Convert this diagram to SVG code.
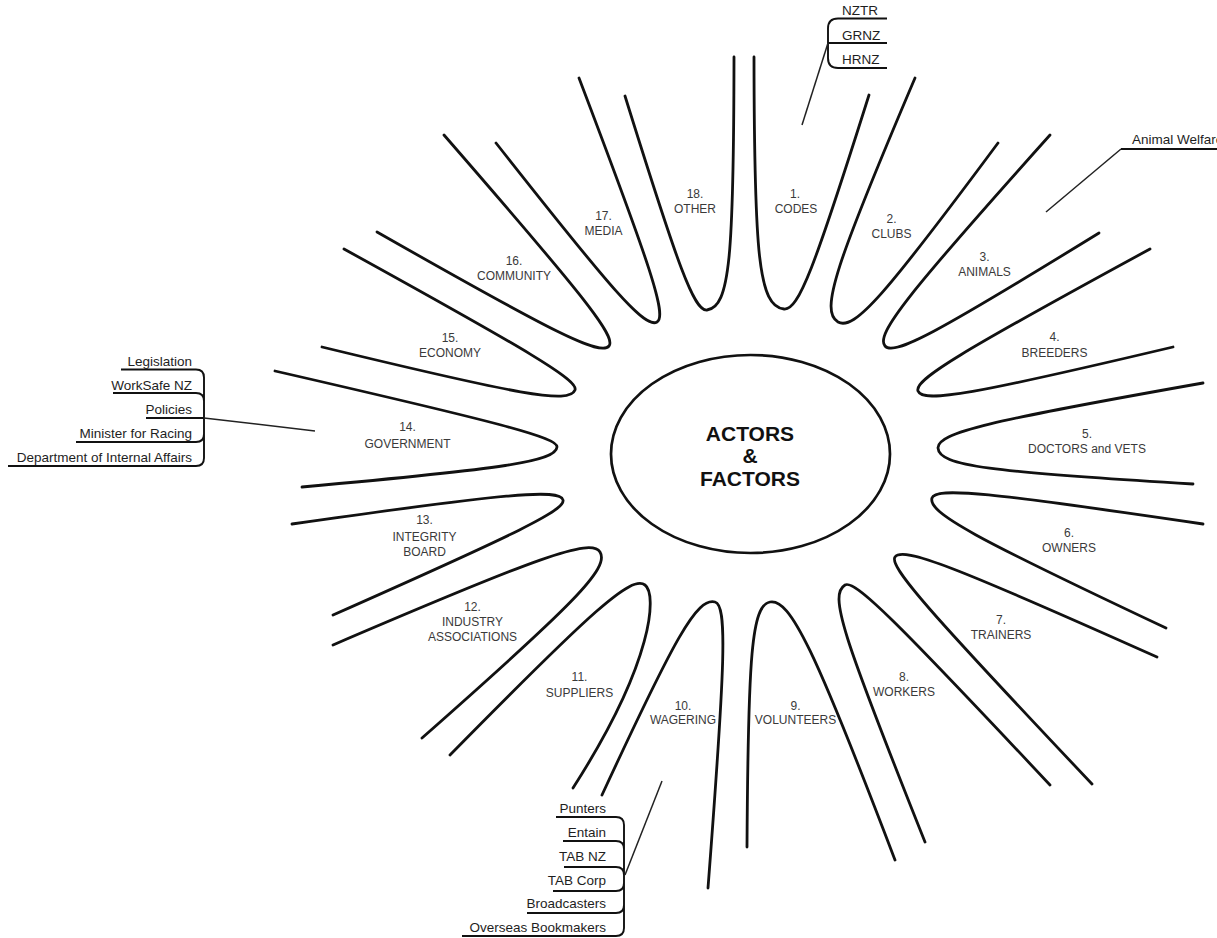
<svg xmlns="http://www.w3.org/2000/svg" width="1217" height="938" viewBox="0 0 1217 938">
  <style>
    .petal { fill: none; stroke: #111; stroke-width: 2.8; stroke-linecap: round; }
    .hub { fill: #fff; stroke: #111; stroke-width: 2.7; }
    .hubtxt { font-family: "Liberation Sans", Arial, sans-serif; font-weight: bold; font-size: 21px; fill: #111; text-anchor: middle; }
    .lbl { font-family: "Liberation Sans", Arial, sans-serif; font-size: 12px; fill: #3a3a3a; text-anchor: middle; }
    .item { font-family: "Liberation Sans", Arial, sans-serif; font-size: 13.5px; fill: #1e1e1e; }
    .rule { fill: none; stroke: #111; stroke-width: 1.9; }
    .conn { fill: none; stroke: #222; stroke-width: 1.5; }
  </style>
  <rect width="1217" height="938" fill="#fff"/>

  <g id="hub">
    <ellipse class="hub" cx="750.5" cy="454" rx="139.5" ry="99"/>
    <text class="hubtxt" x="750" y="441">ACTORS</text>
    <text class="hubtxt" x="750" y="463">&amp;</text>
    <text class="hubtxt" x="750" y="486">FACTORS</text>
  </g>

  <g id="petal-1">
    <path class="petal" d="M754,57 C754.2,255.8 758.7,306 784,309 C798.4,310.7 814.5,267.8 869,95"/>
    <text class="lbl" x="795" y="198">1.</text>
    <text class="lbl" x="796" y="213">CODES</text>
  </g>
  <g id="petal-2">
    <path class="petal" d="M915,78 C836,263.4 819.4,311.6 838,322 C854.3,331.1 885.4,294.8 998,143"/>
    <text class="lbl" x="891.5" y="223">2.</text>
    <text class="lbl" x="891.5" y="238">CLUBS</text>
  </g>
  <g id="petal-3">
    <path class="petal" d="M1050,135 C908.6,292.8 875.1,334.4 885,346 C893.8,356.3 936.1,333.2 1099,233"/>
    <text class="lbl" x="984.5" y="261">3.</text>
    <text class="lbl" x="984.5" y="276">ANIMALS</text>
  </g>
  <g id="petal-4">
    <path class="petal" d="M1150,249 C960.4,352.1 913.8,379.9 918,391 C922.9,403.7 974,394.1 1173,347"/>
    <text class="lbl" x="1054.5" y="341">4.</text>
    <text class="lbl" x="1054.5" y="356.5">BREEDERS</text>
  </g>
  <g id="petal-5">
    <path class="petal" d="M1203,383 C990.2,420.6 937.1,432.7 938,448 C939,465.8 989.9,472 1193,484"/>
    <text class="lbl" x="1087" y="437.5">5.</text>
    <text class="lbl" x="1087" y="452.5">DOCTORS and VETS</text>
  </g>
  <g id="petal-6">
    <path class="petal" d="M1203,524 C989.5,492.5 935.5,486.6 932,498 C927.5,512.6 974.6,537.8 1166,628"/>
    <text class="lbl" x="1069" y="536.5">6.</text>
    <text class="lbl" x="1069" y="551.5">OWNERS</text>
  </g>
  <g id="petal-7">
    <path class="petal" d="M1157,657 C954.9,566.6 902.9,546 895,557 C888.6,566 928.3,610.9 1092,784"/>
    <text class="lbl" x="1001" y="624">7.</text>
    <text class="lbl" x="1001" y="639">TRAINERS</text>
  </g>
  <g id="petal-8">
    <path class="petal" d="M1050,785 C894.8,619.5 854.4,579.2 845,585 C829.1,594.9 841.2,632.1 925,842"/>
    <text class="lbl" x="904" y="680.5">8.</text>
    <text class="lbl" x="904" y="696">WORKERS</text>
  </g>
  <g id="petal-9">
    <path class="petal" d="M895,860 C815,649.8 790,598 770,602 C751.7,605.6 748.1,654.4 747,847"/>
    <text class="lbl" x="795.5" y="709.5">9.</text>
    <text class="lbl" x="795.5" y="724">VOLUNTEERS</text>
  </g>
  <g id="petal-10">
    <path class="petal" d="M708,888 C725.3,662.1 727.4,605.1 715,602 C696.9,597.5 675.4,636.4 602,795"/>
    <text class="lbl" x="683" y="709.5">10.</text>
    <text class="lbl" x="683" y="724">WAGERING</text>
  </g>
  <g id="petal-11">
    <path class="petal" d="M573,788 C655,660 656.7,593.4 645,585 C631.2,575.1 593,609.7 450,755"/>
    <text class="lbl" x="579.5" y="681">11.</text>
    <text class="lbl" x="579.5" y="696.5">SUPPLIERS</text>
  </g>
  <g id="petal-12">
    <path class="petal" d="M422,738 C573.7,604.2 609.9,567.9 600,552 C591,537.6 538.1,557 333,645"/>
    <text class="lbl" x="472.5" y="610.5">12.</text>
    <text class="lbl" x="472.5" y="626">INDUSTRY</text>
    <text class="lbl" x="472.5" y="640.5">ASSOCIATIONS</text>
  </g>
  <g id="petal-13">
    <path class="petal" d="M333,615 C519.6,532.3 565.7,509.8 563,500 C559.7,488.2 505.7,493.6 292,524"/>
    <text class="lbl" x="424.5" y="524">13.</text>
    <text class="lbl" x="424.5" y="540.5">INTEGRITY</text>
    <text class="lbl" x="424.5" y="556">BOARD</text>
  </g>
  <g id="petal-14">
    <path class="petal" d="M302,487 C505.1,468.6 556,461.4 557,447 C557.6,437.7 501.2,423 275,371"/>
    <text class="lbl" x="407.5" y="430.5">14.</text>
    <text class="lbl" x="407.5" y="447.5">GOVERNMENT</text>
  </g>
  <g id="petal-15">
    <path class="petal" d="M322,347 C519.3,394.8 569.6,404.3 575,390 C578.6,380.5 532.2,352.8 344,249"/>
    <text class="lbl" x="450" y="341.5">15.</text>
    <text class="lbl" x="450" y="357">ECONOMY</text>
  </g>
  <g id="petal-16">
    <path class="petal" d="M377,232 C554.4,333 600.3,356.4 609,346 C616.6,336.9 583.2,295.2 444,135"/>
    <text class="lbl" x="514" y="265">16.</text>
    <text class="lbl" x="514" y="280">COMMUNITY</text>
  </g>
  <g id="petal-17">
    <path class="petal" d="M496,143 C613.7,292.6 645.2,328.8 657,322 C667.3,316.1 651.1,267.6 579,78"/>
    <text class="lbl" x="603.5" y="220">17.</text>
    <text class="lbl" x="603.5" y="235">MEDIA</text>
  </g>
  <g id="petal-18">
    <path class="petal" d="M625,96 C678.7,268.6 694.3,311.5 707,310 C729.8,307.3 733.8,256.8 734,57"/>
    <text class="lbl" x="695" y="198">18.</text>
    <text class="lbl" x="695" y="213">OTHER</text>
  </g>

  <!-- sub-lists hanging off individual petals -->
  <g id="codes-list">
    <path class="rule" d="M887,18.5 H838 Q828,18.5 828,28.5 V58 Q828,68 838,68 H887 M828,43 H887"/>
    <text class="item" x="842" y="15" font-size="12">NZTR</text>
    <text class="item" x="842" y="39.5" font-size="12">GRNZ</text>
    <text class="item" x="842" y="64" font-size="12">HRNZ</text>
  </g>

  <g id="animal-welfare">
    <path class="rule" d="M1121,149 H1217"/>
    <text class="item" x="1132" y="144">Animal Welfare</text>
  </g>

  <g id="government-list">
    <path class="rule" d="M121,369.5 H196 Q204,369.5 204,377.5 V458 Q204,466 196,466 H8 M113,393 H196 Q204,393 204,401 M76,442 H196 Q204,442 204,434 M146,418 H204"/>
    <text class="item" x="192" y="366" text-anchor="end">Legislation</text>
    <text class="item" x="192" y="390" text-anchor="end">WorkSafe NZ</text>
    <text class="item" x="192" y="413.5" text-anchor="end">Policies</text>
    <text class="item" x="192" y="438" text-anchor="end">Minister for Racing</text>
    <text class="item" x="192" y="462" text-anchor="end">Department of Internal Affairs</text>
  </g>

  <g id="wagering-list">
    <path class="rule" d="M556,817 H616 Q624,817 624,825 V928 Q624,936 616,936 H462 M563,841 H616 Q624,841 624,849 M564,867 H616 Q624,867 624,875 M553,891 H616 Q624,891 624,883 M527,913 H616 Q624,913 624,905"/>
    <text class="item" x="606" y="813" font-size="12.5" text-anchor="end">Punters</text>
    <text class="item" x="606" y="837" font-size="12.5" text-anchor="end">Entain</text>
    <text class="item" x="606" y="861" font-size="12.5" text-anchor="end">TAB NZ</text>
    <text class="item" x="606" y="885" font-size="12.5" text-anchor="end">TAB Corp</text>
    <text class="item" x="606" y="908" font-size="12.5" text-anchor="end">Broadcasters</text>
    <text class="item" x="606" y="932" font-size="12.5" text-anchor="end">Overseas Bookmakers</text>
  </g>

  <g id="connectors">
    <line class="conn" x1="828" y1="43" x2="802" y2="125"/>
    <line class="conn" x1="1121" y1="149" x2="1046" y2="212"/>
    <line class="conn" x1="204" y1="418" x2="315" y2="431"/>
    <line class="conn" x1="625" y1="875" x2="662" y2="781"/>
  </g>
</svg>
